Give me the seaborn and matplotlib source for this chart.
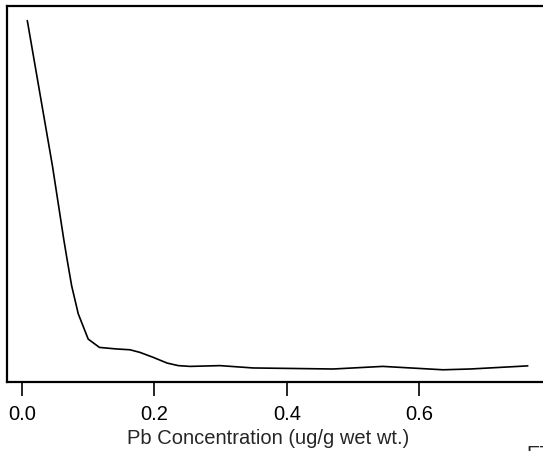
import matplotlib
matplotlib.use("Agg")
import matplotlib.pyplot as plt
import seaborn as sns
import pandas as pd

sns.set_theme(style="white")
plt.rcParams['font.family'] = ['Liberation Sans', 'DejaVu Sans']

# Density curve
pb_conc = [0.008, 0.046, 0.063, 0.068, 0.075, 0.085, 0.100, 0.117, 0.143,
           0.163, 0.178, 0.198, 0.219, 0.236, 0.254, 0.299, 0.349, 0.410,
           0.470, 0.545, 0.636, 0.677, 0.764]
density = [13.90, 8.31, 5.50, 4.73, 3.70, 2.62, 1.65, 1.33, 1.27,
           1.24, 1.14, 0.95, 0.73, 0.63, 0.60, 0.63, 0.54, 0.52,
           0.50, 0.60, 0.47, 0.50, 0.62]
x_ticks = [0.0, 0.2, 0.4, 0.6]
x_tick_labels = ["0.0", "0.2", "0.4", "0.6"]

df = pd.DataFrame({"x": pb_conc, "y": density})

fig = plt.figure(figsize=(5.43, 4.52), dpi=100)
W, H = 543, 452
left, right, top, bottom = 7, 560, 7, 383
ax = fig.add_axes([left / W, 1 - bottom / H, (right - left) / W, (bottom - top) / H])

sns.lineplot(data=df, x="x", y="y", ax=ax, color="black", linewidth=1.2)

ax.set_xlim((left - 22) / 662, (right - 22) / 662)
ax.set_ylim(0, (383 - 7) / 26)
ax.set_yticks([])
ax.set_ylabel("")
ax.set_xticks(x_ticks)
ax.set_xticklabels(x_tick_labels, fontsize=14.5)
ax.tick_params(axis="x", direction="out", length=10, width=1.2, pad=6,
               bottom=True, colors="black")
for side in ["left", "top", "bottom"]:
    ax.spines[side].set_visible(True)
    ax.spines[side].set_linewidth(1.6)
    ax.spines[side].set_color("black")
ax.spines["right"].set_visible(False)

ax.set_xlabel("Pb Concentration (ug/g wet wt.)", fontsize=14.5)
ax.xaxis.set_label_coords((268 - left) / (right - left), -(439 - bottom) / (bottom - top), transform=ax.transAxes)
ax.xaxis.label.set_va("center")

fig.text(526 / W, 1 - 445 / H, "ET", fontsize=14.5, va="top", ha="left")

fig.savefig("out.png", dpi=100)
